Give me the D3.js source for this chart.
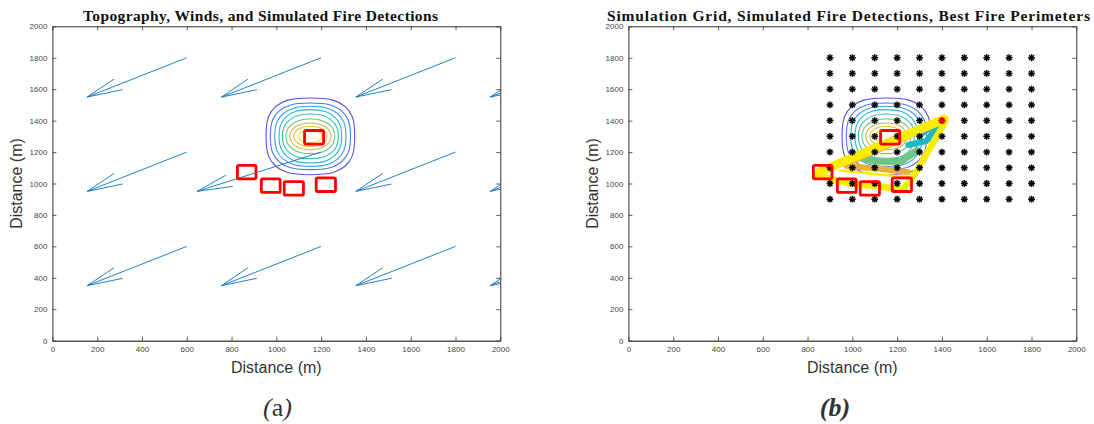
<!DOCTYPE html>
<html><head><meta charset="utf-8">
<script src="https://d3js.org/d3.v7.min.js"></script>
<style>html,body{margin:0;padding:0;background:#fff}svg{display:block}</style>
</head><body><svg id="c" width="1094" height="424"></svg>
<script>
const xTickVals=[0,200,400,600,800,1000,1200,1400,1600,1800,2000];
const yTickVals=[0,200,400,600,800,1000,1200,1400,1600,1800,2000];
const titleA="Topography, Winds, and Simulated Fire Detections";
const titleB="Simulation Grid, Simulated Fire Detections, Best Fire Perimeters";
const axisLabel="Distance (m)";

// wind arrows: tail, shaft end, two barbs
const arrowTailX=[155,755,1355,1955,155,646,1355,1955,155,755,1355,1955];
const arrowTailY=[1550,1550,1550,1550,950,950,950,950,350,350,350,350];
const arrowEndX=[600,1200,1800,2400,600,1200,1800,2400,600,1200,1800,2400];
const arrowEndY=[1800,1800,1800,1800,1200,1200,1200,1200,600,600,600,600];
const barbAX=[275,873,1475,2075,275,774,1475,2075,275,873,1475,2075];
const barbAY=[1664,1664,1664,1664,1064,1052,1064,1064,464,464,464,464];
const barbBX=[314,913,1515,2115,314,806,1515,2115,314,913,1515,2115];
const barbBY=[1597,1597,1597,1597,997,982,997,997,397,397,397,397];

// terrain contours
const contourCenter=[1152,1300];
const contourHalfW=[198,179,159,140,125,109,92,74,52];
const contourHalfH=[244,212,191,170,142,110,85,64,42];
const contourCorner=[.78,.77,.76,.75,.74,.73,.72,.72,.71];
const contourColors=["#5a52e0","#4a78ee","#3a9cec","#25b6da","#2cc0b0","#72c484","#c6bb50","#efb838","#f8e820"];

// detection rectangles: x0,x1,y0,y1
const detX0=[826,933,1035,1178,1126];
const detX1=[909,1017,1121,1264,1211];
const detY0=[1030,943,926,949,1251];
const detY1=[1115,1030,1012,1036,1337];

// simulation grid
const gridX=[900,1000,1100,1200,1300,1400,1500,1600,1700,1800];
const gridY=[900,1000,1100,1200,1300,1400,1500,1600,1700,1800];
const ignition=[1400,1400];

// fire perimeters, earliest first
const perimBlueX=[1395,1330,1300];
const perimBlueY=[1395,1330,1300];
const perimCyanX=[1385,1330,1250];
const perimCyanY=[1370,1270,1245];
const perimGreenX=[1041,1100,1219,1290];
const perimGreenY=[1160,1142,1142,1210];
const perimThinX=[1000,1250];
const perimThinY=[1128,1285];
const perimOrangeX=[975,1130,1249];
const perimOrangeY=[1112,1092,1072];
const perimYellow1X=[944,1100,1264];
const perimYellow1Y=[1082,1060,1038];
const perimYellow2X=[1412,1415,1408,1271,1227,1100,981,840];
const perimYellow2Y=[1415,1395,1375,1040,963,984,1001,1054];
const perimYellow3X=[1410,855];
const perimYellow3Y=[1410,1075];
const perimColors=["#3a9cec","#20b8c0","#72c484","#e8b038","#e8b038","#fbec00","#fbec00","#fbec00"];
const perimWidths=[4,6,7,2,6,2.5,6.5,9];

const W=447.9,H=314.4,TOP=26.3;
const svg=d3.select("#c");
svg.append("defs").selectAll("clipPath").data(["a","b"]).join("clipPath").attr("id",d=>"clip"+d)
  .append("rect").attr("width",W).attr("height",H);

function panel(left,id){
  const x=d3.scaleLinear().domain([0,2000]).range([0,W]);
  const y=d3.scaleLinear().domain([0,2000]).range([H,0]);
  const g=svg.append("g").attr("transform",`translate(${left},${TOP})`);
  const plot=g.append("g").attr("clip-path",`url(#clip${id})`);
  return {x,y,g,plot};
}
function axes(p){
  const {x,y,g}=p;
  const fmt=d3.format("d");
  const style=s=>{s.select(".domain").attr("stroke","#333").attr("stroke-width",1);
    s.selectAll(".tick line").attr("stroke","#333").attr("stroke-width",.8);
    s.selectAll("text").attr("fill","#444").style("font","8px 'Liberation Sans'");};
  g.append("g").attr("transform",`translate(0,${H})`).call(d3.axisBottom(x).tickValues(xTickVals).tickFormat(fmt).tickSizeInner(-4).tickSizeOuter(0).tickPadding(6)).call(style)
    .call(s=>s.select(".domain").attr("stroke","#555").attr("stroke-width",1.4));
  g.append("g").call(d3.axisTop(x).tickValues(xTickVals).tickSizeInner(-4).tickSizeOuter(0).tickFormat("")).call(style);
  g.append("g").call(d3.axisLeft(y).tickValues(yTickVals).tickFormat(fmt).tickSizeInner(-4).tickSizeOuter(0).tickPadding(5)).call(style);
  g.append("g").attr("transform",`translate(${W},0)`).call(d3.axisRight(y).tickValues(yTickVals).tickSizeInner(-4).tickSizeOuter(0).tickFormat("")).call(style);
}
function contours(p,sw){
  const line=d3.line().x(d=>p.x(d[0])).y(d=>p.y(d[1])).curve(d3.curveCatmullRomClosed.alpha(.5));
  const [cx,cy]=contourCenter;
  contourHalfW.forEach((a,i)=>{
    const b=contourHalfH[i],c=contourCorner[i];
    const far=.924+(c-.707)*.28, near=.383+(c-.707)*1.73;
    const q=[[1,0],[far,near],[c,c],[near,far],[0,1]];
    const pts=[];
    [[1,1],[-1,1],[-1,-1],[1,-1]].forEach((s,k)=>{
      const seq=(k%2===0)?q:q.slice().reverse();
      seq.slice(0,4).forEach(d=>pts.push([cx+s[0]*a*d[0],cy+s[1]*b*d[1]]));
    });
    p.plot.append("path").attr("d",line(pts)).attr("fill","none").attr("stroke",contourColors[i]).attr("stroke-width",sw);
  });
}
function detections(p){
  p.plot.selectAll(null).data(detX0).join("rect")
    .attr("x",(d,i)=>p.x(detX0[i])).attr("width",(d,i)=>p.x(detX1[i])-p.x(detX0[i]))
    .attr("y",(d,i)=>p.y(detY1[i])).attr("height",(d,i)=>p.y(detY0[i])-p.y(detY1[i]))
    .attr("rx",1.5).attr("fill","none").attr("stroke","#ff0000").attr("stroke-width",2.8);
}
function labels(left,title,titleLen,titleCx,yLabX){
  svg.append("text").attr("x",titleCx).attr("y",20.5).attr("text-anchor","middle")
    .attr("textLength",titleLen).attr("lengthAdjust","spacing")
    .style("font","bold 15.5px 'Liberation Serif'").attr("fill","#111").text(title);
  svg.append("text").attr("x",left+W/2).attr("y",373).attr("text-anchor","middle")
    .style("font","16px 'Liberation Sans'").attr("fill","#333").text(axisLabel);
  svg.append("text").attr("transform",`translate(${yLabX},${TOP+H/2}) rotate(-90)`).attr("text-anchor","middle")
    .style("font","16px 'Liberation Sans'").attr("fill","#333").text(axisLabel);
}

// panel (a)
const A=panel(52.4,"a");
contours(A,1.1);
const aLine=d3.line().x(d=>A.x(d[0])).y(d=>A.y(d[1]));
arrowTailX.forEach((tx,i)=>{
  const ty=arrowTailY[i];
  [[arrowEndX[i],arrowEndY[i]],[barbAX[i],barbAY[i]],[barbBX[i],barbBY[i]]].forEach(e=>{
    A.plot.append("path").attr("d",aLine([[tx,ty],e])).attr("fill","none").attr("stroke","#0b72bd").attr("stroke-width",.9);
  });
});
detections(A);
axes(A);
labels(52.4,titleA,355,260.5,22);

// panel (b)
const B=panel(628.4,"b");
contours(B,1.1);
const bLine=d3.line().x(d=>B.x(d[0])).y(d=>B.y(d[1]));
const perimX=[perimBlueX,perimCyanX,perimGreenX,perimThinX,perimOrangeX,perimYellow1X,perimYellow2X,perimYellow3X];
const perimY=[perimBlueY,perimCyanY,perimGreenY,perimThinY,perimOrangeY,perimYellow1Y,perimYellow2Y,perimYellow3Y];
perimX.forEach((xs,i)=>{
  const pts=xs.map((v,j)=>[v,perimY[i][j]]);
  B.plot.append("path").attr("d",bLine(pts)).attr("fill","none").attr("stroke",perimColors[i])
    .attr("stroke-width",perimWidths[i]).attr("stroke-linejoin","round").attr("stroke-linecap","round");
});
function asterisk(sel,px,py,color){
  const r=3.4;
  const g=sel.append("g").attr("transform",`translate(${px},${py})`).attr("stroke",color).attr("stroke-width",1.5);
  [0,45,90,135].forEach(a=>g.append("line").attr("x1",-r).attr("x2",r).attr("transform",`rotate(${a})`));
}
gridY.forEach(gy=>gridX.forEach(gx=>asterisk(B.plot,B.x(gx),B.y(gy),"#000")));
asterisk(B.plot,B.x(ignition[0]),B.y(ignition[1]),"#ff0000");
detections(B);
axes(B);
labels(628.4,titleB,483,848.5,598);

// captions
const capA=svg.append("text").attr("x",277.5).attr("y",416).attr("text-anchor","middle").style("font","26px 'Liberation Serif'").attr("fill","#333");
capA.append("tspan").style("font-style","italic").text("(");
capA.append("tspan").text("a");
capA.append("tspan").style("font-style","italic").text(")");
svg.append("text").attr("x",835).attr("y",416).attr("text-anchor","middle").style("font","italic bold 26px 'Liberation Serif'").attr("fill","#333").text("(b)");
</script></body></html>
